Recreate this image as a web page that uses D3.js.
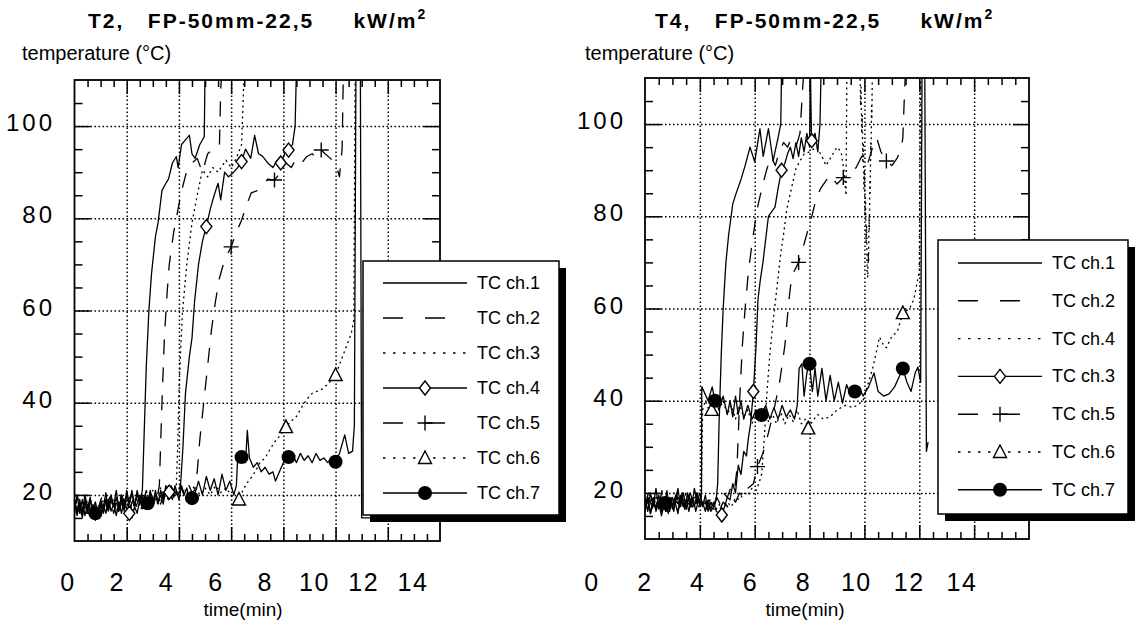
<!DOCTYPE html>
<html>
<head>
<meta charset="utf-8">
<script src="https://cdn.jsdelivr.net/npm/d3@7"></script>
<style>
  body { margin: 0; background: #fff; }
  svg { display: block; font-family: "Liberation Sans", Arial, Helvetica, sans-serif; }
</style>
</head>
<body>
<svg id="chart" width="1136" height="625"></svg>
<script>
// ---- tick labels / legend names ----
const xTickLabels = [0, 2, 4, 6, 8, 10, 12, 14];
const yTickLabels = [20, 40, 60, 80, 100];
const legendNamesT2 = ["TC ch.1", "TC ch.2", "TC ch.3", "TC ch.4", "TC ch.5", "TC ch.6", "TC ch.7"];
const legendNamesT4 = ["TC ch.1", "TC ch.2", "TC ch.4", "TC ch.3", "TC ch.5", "TC ch.6", "TC ch.7"];

// ---- T2 series: [time (min), temperature (°C)] ----
const t2Ch1 = [[0,18],[0.1,15.5],[0.2,19],[0.3,16],[0.4,20],[0.5,17],[0.6,19.5],[0.7,16],[0.8,18.5],[0.9,15.8],[1.0,19],[1.1,17],[1.2,20.5],[1.3,16.5],[1.4,19],[1.5,17.5],[1.6,21],[1.7,17],[1.8,19.5],[1.9,16.5],[2.0,20],[2.1,18],[2.2,21],[2.3,17.5],[2.4,20],[2.5,18.5],[2.6,21],[2.65,30],[2.75,48],[2.85,60],[2.95,68],[3.1,76],[3.2,79],[3.35,86],[3.5,87.6],[3.6,88.5],[3.75,92],[3.9,93.4],[3.97,91],[4.1,96],[4.25,97],[4.4,98],[4.5,94],[4.62,93],[4.8,96],[4.97,97.7],[5.0,112]];
const t2Ch2 = [[0,17],[0.12,19.5],[0.25,16],[0.37,18],[0.5,20],[0.62,16.5],[0.75,18],[0.87,15.5],[1.0,17.5],[1.12,20],[1.25,17],[1.37,19],[1.5,16],[1.62,18.5],[1.75,20.5],[1.87,17],[2.0,19],[2.12,16.5],[2.25,19.5],[2.37,17.5],[2.5,20],[2.62,18],[2.75,21],[2.87,17.5],[3.0,19.5],[3.12,18],[3.25,22],[3.35,40],[3.45,55],[3.55,64],[3.63,70],[3.8,77],[4.0,83],[4.15,87],[4.31,90.5],[4.5,92],[4.7,93],[4.9,90],[5.1,94],[5.3,95],[5.55,95.5],[5.6,108],[5.65,112]];
const t2Ch3 = [[0,16],[0.15,18],[0.3,17],[0.45,19],[0.6,16.5],[0.75,18.5],[0.9,17],[1.05,19.5],[1.2,16],[1.35,18],[1.5,19],[1.65,17],[1.8,20],[1.95,18],[2.1,19.5],[2.25,17.5],[2.4,20.5],[2.55,18],[2.7,20],[2.85,18.5],[3.0,21],[3.15,19],[3.3,21.5],[3.45,19.5],[3.6,22],[3.75,20],[3.9,22],[3.95,30],[4.0,42],[4.07,52],[4.14,60],[4.3,70],[4.5,79],[4.7,85],[4.9,90.5],[5.1,89],[5.3,91],[5.5,90],[5.8,92.6],[6.0,91],[6.2,93],[6.4,96],[6.5,112]];
const t2Ch4 = [[0,19],[0.1,16],[0.2,18],[0.3,15],[0.4,18.5],[0.5,16],[0.6,19],[0.7,16.5],[0.8,14.5],[0.9,17],[1.0,15.5],[1.1,18],[1.2,16],[1.3,19],[1.4,16.5],[1.5,18],[1.6,15.5],[1.7,18.5],[1.8,16],[1.9,19],[2.0,17],[2.1,16],[2.2,15],[2.3,17.5],[2.4,16],[2.5,19],[2.6,17],[2.7,20],[2.8,18],[2.9,21],[3.0,18.5],[3.1,20],[3.2,18],[3.3,21],[3.4,19],[3.5,22],[3.63,20.6],[3.75,19],[3.85,22],[3.95,20],[4.05,21],[4.15,30],[4.25,42],[4.4,50],[4.5,54],[4.6,62],[4.75,70],[4.9,75],[5.05,78.2],[5.2,82],[5.35,85],[5.5,87.6],[5.6,84],[5.75,90],[5.9,89],[6.1,90],[6.25,91],[6.4,92.3],[6.55,95],[6.75,93],[6.9,98],[7.05,94],[7.2,93.5],[7.4,92],[7.6,91],[7.75,92.5],[7.9,92],[8.05,94],[8.2,94.8],[8.35,96],[8.45,100],[8.5,112]];
const t2Ch4Marks = [[2.1,16],[3.63,20.6],[5.05,78.2],[6.4,92.3],[7.9,92],[8.2,94.8]];
const t2Ch5 = [[0,18],[0.15,16.5],[0.3,19],[0.45,17],[0.6,15.5],[0.75,18],[0.9,16],[1.05,18.5],[1.2,17],[1.35,19.5],[1.5,17.5],[1.65,16],[1.8,18],[1.95,20],[2.1,17],[2.25,19],[2.4,17.5],[2.55,20],[2.7,18],[2.85,19.5],[3.0,17.5],[3.15,20],[3.3,18],[3.45,21],[3.6,19],[3.75,21.5],[3.9,19.5],[4.05,22],[4.2,20],[4.35,22.5],[4.5,20.5],[4.6,21],[4.7,25],[4.8,32],[4.95,40],[5.1,48],[5.25,56],[5.4,62],[5.55,67],[5.75,71],[6.0,73.8],[6.2,77],[6.4,79.6],[6.6,83],[6.77,85.5],[7.0,86],[7.2,87],[7.4,88.5],[7.66,88.3],[7.9,90],[8.1,92],[8.3,91],[8.5,93],[8.7,92],[8.9,93.4],[9.1,94],[9.3,93],[9.45,94.8],[9.6,94],[9.8,93],[10.0,92],[10.15,89],[10.25,95],[10.3,112]];
const t2Ch5Marks = [[6.0,73.8],[7.66,88.3],[9.45,94.8]];
const t2Ch6 = [[0,20],[0.15,17],[0.3,18.5],[0.45,16],[0.6,19],[0.75,17],[0.9,18],[1.05,16],[1.2,19.5],[1.35,17.5],[1.5,18.5],[1.65,16.5],[1.8,19],[1.95,17],[2.1,18],[2.25,16.5],[2.4,19],[2.55,17],[2.7,19.5],[2.85,18],[3.0,20],[3.2,18],[3.4,20.5],[3.6,19],[3.8,21],[4.0,19.5],[4.2,21],[4.4,20],[4.6,22],[4.8,20],[5.0,21.5],[5.2,20],[5.4,22],[5.6,20.5],[5.8,21.5],[6.0,20],[6.15,19.5],[6.3,19],[6.45,21],[6.6,22.5],[6.8,24],[6.96,25.4],[7.1,27],[7.3,28],[7.5,30],[7.73,32],[7.9,33],[8.1,34.7],[8.3,36],[8.5,37],[8.7,39],[8.88,40.6],[9.1,42],[9.3,42.5],[9.5,43],[9.7,44],[10.0,46],[10.2,49],[10.4,52],[10.6,55],[10.7,58],[10.75,112]];
const t2Ch6Marks = [[6.3,19],[8.1,34.7],[10.0,46]];
const t2Ch7 = [[0,17],[0.1,20],[0.2,16],[0.3,19],[0.4,15.5],[0.5,18],[0.6,16],[0.7,17.5],[0.8,16],[0.9,15],[1.0,18],[1.1,16],[1.2,19],[1.3,17],[1.4,20],[1.5,17.5],[1.6,19.5],[1.7,16.5],[1.8,20],[1.9,17],[2.0,21],[2.1,18],[2.2,20.5],[2.3,17.5],[2.4,21],[2.5,18],[2.6,20],[2.7,17.5],[2.8,18.2],[2.9,20.5],[3.0,18],[3.1,21],[3.2,18.5],[3.3,20],[3.4,18],[3.5,21.5],[3.6,19],[3.7,22],[3.8,19.5],[3.9,21],[4.0,19],[4.1,22],[4.2,20],[4.3,21.5],[4.4,19],[4.5,19.3],[4.6,20],[4.75,23],[4.9,20],[5.05,24],[5.2,21],[5.35,23.5],[5.5,20],[5.65,24.5],[5.8,21],[5.95,23],[6.1,20],[6.2,22],[6.25,28],[6.4,28.2],[6.55,27],[6.62,34],[6.7,28],[6.85,26],[7.0,27],[7.15,25],[7.3,26],[7.45,24.5],[7.6,25],[7.7,23],[7.85,25],[8.0,27],[8.2,28.2],[8.35,29],[8.5,27],[8.65,29],[8.8,27.5],[8.95,28.5],[9.1,27],[9.25,29],[9.4,27.5],[9.55,28],[9.7,27],[9.85,28],[10.0,27.2],[10.15,29],[10.35,33],[10.5,29],[10.65,29.5],[10.72,35],[10.78,112],[10.95,112],[11.0,15],[11.6,15]];
const t2Ch7Marks = [[0.8,16],[2.8,18.2],[4.5,19.3],[6.4,28.2],[8.2,28.2],[10.0,27.2]];

// ---- T4 series ----
const t4Ch1 = [[0,19],[0.1,16],[0.2,20],[0.3,17],[0.4,21],[0.5,16.5],[0.6,19],[0.7,17],[0.8,20.5],[0.9,16],[1.0,19],[1.1,17.5],[1.2,21],[1.3,17],[1.4,20],[1.5,16.5],[1.6,19.5],[1.7,17],[1.8,21],[1.9,18],[2.0,20],[2.1,17],[2.2,19.5],[2.3,16],[2.4,18],[2.5,17],[2.6,19],[2.65,22],[2.7,35],[2.78,50],[2.85,60],[2.95,70],[3.05,76],[3.2,82.7],[3.34,85.3],[3.5,88],[3.65,91],[3.83,95],[4.0,91.8],[4.19,99],[4.31,93],[4.5,99],[4.67,92],[4.85,97],[4.95,100],[4.98,112]];
const t4Ch2 = [[0,17],[0.12,20],[0.25,16.5],[0.37,19],[0.5,17],[0.62,20.5],[0.75,16],[0.87,18.5],[1.0,17],[1.12,19.5],[1.25,16.5],[1.37,20],[1.5,17.5],[1.62,19],[1.75,16.5],[1.87,20],[2.0,18],[2.12,19.5],[2.25,17],[2.37,18.5],[2.5,16.5],[2.62,19],[2.75,17.5],[2.87,20],[3.0,19],[3.12,21],[3.25,20],[3.35,25],[3.45,40],[3.55,52],[3.65,60],[3.77,68],[3.9,74],[4.05,80],[4.13,82.7],[4.3,87],[4.43,90],[4.6,93],[4.75,91],[4.9,94],[5.05,96],[5.2,95],[5.3,96.5],[5.5,95],[5.65,98],[5.75,108],[5.8,112]];
const t4Ch4 = [[0,18],[0.15,16],[0.3,19],[0.45,17],[0.6,20],[0.75,17.5],[0.9,19],[1.05,16.5],[1.2,19],[1.35,17],[1.5,20],[1.65,17.5],[1.8,19],[1.95,17],[2.1,18.5],[2.25,16.5],[2.4,18],[2.55,16],[2.7,17.5],[2.85,16.5],[3.0,18],[3.15,17],[3.3,19],[3.45,18.5],[3.6,20],[3.75,19.5],[3.9,21],[4.05,20.5],[4.15,22],[4.25,24],[4.35,32],[4.45,42],[4.55,50],[4.65,56],[4.8,64],[4.95,72],[5.05,76],[5.17,81.6],[5.3,85],[5.5,90.3],[5.65,92],[5.8,93.5],[6.0,94],[6.26,95],[6.45,93],[6.6,91],[6.8,93],[7.0,95],[7.15,94],[7.25,90],[7.33,84.5],[7.36,112],[7.84,112],[7.86,104],[7.88,108],[7.9,98],[7.92,102],[7.94,92],[7.96,96],[7.98,86],[8.0,90],[8.02,80],[8.04,84],[8.06,74],[8.08,78],[8.1,68],[8.12,66.7],[8.14,72],[8.15,70],[8.17,80],[8.18,77],[8.2,88],[8.21,85],[8.23,96],[8.24,93],[8.26,104],[8.27,101],[8.29,112]];
const t4Ch3 = [[0,16],[0.1,18.5],[0.2,15.5],[0.3,19],[0.4,16],[0.5,18],[0.6,15],[0.7,17.5],[0.8,16],[0.9,19],[1.0,16.5],[1.1,18],[1.2,15.5],[1.3,19.5],[1.4,17],[1.5,18.5],[1.6,16],[1.7,19],[1.8,17],[1.9,20],[2.0,17],[2.1,18],[2.2,16],[2.3,18.5],[2.4,16.5],[2.5,18],[2.6,16],[2.7,15.5],[2.8,15.2],[2.9,17],[3.0,19],[3.1,18.5],[3.2,22],[3.3,20],[3.4,26],[3.5,24],[3.6,29],[3.7,28],[3.76,31.5],[3.85,35],[3.95,42],[4.05,52],[4.12,62],[4.2,66],[4.3,70],[4.42,76],[4.5,80],[4.62,81],[4.74,82],[4.85,86],[4.98,90],[5.1,91.5],[5.2,93.6],[5.3,95],[5.4,92.5],[5.5,96],[5.6,93],[5.7,97],[5.8,94],[5.9,98],[6.0,95],[6.03,112],[6.07,97],[6.08,96.4],[6.2,98],[6.3,94],[6.38,100],[6.42,112]];
const t4Ch3Marks = [[2.8,15.2],[3.95,42],[4.98,90],[6.08,96.4]];
const t4Ch5 = [[0,17.5],[0.15,19],[0.3,16],[0.45,18],[0.6,16.5],[0.75,19.5],[0.9,17],[1.05,18.5],[1.2,16],[1.35,19],[1.5,17.5],[1.65,20],[1.8,17],[1.95,19],[2.1,16.5],[2.25,18],[2.4,16],[2.55,17.5],[2.7,16],[2.85,18],[3.0,17],[3.15,19],[3.3,18],[3.45,20],[3.6,19],[3.75,21],[3.95,22],[4.1,25.7],[4.3,28.6],[4.5,33],[4.7,38],[4.9,43.7],[5.1,52],[5.25,62],[5.35,67],[5.6,70],[5.8,74],[6.08,80],[6.25,84],[6.4,86],[6.75,89],[7.0,87],[7.23,88.4],[7.45,89],[7.7,90.6],[7.9,93],[8.1,91],[8.3,95],[8.45,97],[8.6,94],[8.8,92],[9.0,91],[9.2,92.7],[9.35,95],[9.4,97],[9.45,105],[9.5,112]];
const t4Ch5Marks = [[4.1,25.7],[5.6,70],[7.23,88.4],[8.8,92]];
const t4Ch6 = [[0,18],[0.15,20],[0.3,17],[0.45,19.5],[0.6,16.5],[0.75,18.5],[0.9,17],[1.05,20],[1.2,17.5],[1.35,19],[1.5,16.5],[1.65,18.5],[1.8,17],[1.95,19],[2.05,18],[2.1,38],[2.2,40],[2.3,38.5],[2.43,38],[2.55,41],[2.7,38],[2.85,40],[3.0,37],[3.15,39],[3.3,36],[3.45,39],[3.6,36.5],[3.75,38],[3.9,35],[4.05,38],[4.2,36],[4.35,38.5],[4.5,35.5],[4.65,37],[4.8,35],[4.95,37.5],[5.1,35],[5.25,37],[5.4,35.5],[5.55,38],[5.7,35],[5.85,36],[5.95,34],[6.1,35.5],[6.3,37],[6.5,36],[6.75,36.5],[7.0,38],[7.3,39],[7.6,38.5],[7.95,40],[8.15,44],[8.3,47],[8.45,51],[8.55,53.8],[8.7,52],[8.8,51.5],[9.0,54],[9.2,55],[9.4,59],[9.65,60],[9.8,62],[9.9,65],[10.0,68],[10.05,112]];
const t4Ch6Marks = [[2.43,38],[5.95,34],[9.4,59]];
const t4Ch7 = [[0,16],[0.1,19],[0.2,15.5],[0.3,18],[0.4,16.5],[0.5,19.5],[0.6,16],[0.73,17.8],[0.85,15.5],[0.95,19],[1.05,16],[1.15,20],[1.25,17],[1.35,19.5],[1.45,16.5],[1.55,20],[1.65,17],[1.75,19],[1.85,16],[1.95,18.5],[2.02,17],[2.06,20],[2.07,43],[2.15,42],[2.3,40],[2.45,43],[2.55,40],[2.7,38],[2.85,41],[3.0,37],[3.1,40],[3.2,36.5],[3.3,41],[3.4,37],[3.5,40],[3.6,36],[3.75,39],[3.9,36],[4.05,38],[4.25,36.9],[4.4,39],[4.55,36],[4.7,38.5],[4.85,36],[5.0,39],[5.15,36.5],[5.3,38],[5.45,36],[5.55,39],[5.62,47],[5.72,48],[5.8,41],[5.9,46],[6.0,48],[6.1,42],[6.2,47],[6.3,41],[6.45,47],[6.6,40],[6.75,45.5],[6.9,40],[7.05,44],[7.2,39.5],[7.35,43.5],[7.5,41],[7.65,42],[7.8,43],[7.95,41],[8.15,43],[8.35,46],[8.5,42],[8.7,41],[8.9,41.5],[9.1,43],[9.25,45],[9.4,47],[9.55,44],[9.7,42],[9.85,46],[9.95,47.3],[10.05,44],[10.1,112],[10.2,112],[10.26,29],[10.32,31]];
const t4Ch7Marks = [[0.73,17.8],[2.55,40],[4.25,36.9],[6.0,48],[7.65,42],[9.4,47]];

// legend row order = drawing style order
const rowStyles = [
  { dash: null,  mark: null },
  { dash: "dash", mark: null },
  { dash: "dot",  mark: null },
  { dash: null,  mark: "diamond" },
  { dash: "dash", mark: "plus" },
  { dash: "dot",  mark: "triangle" },
  { dash: null,  mark: "circle" }
];
const plotDash = { dash: "15,13", dot: "2,3.5" };
const legendDash = { dash: "20,22", dot: "2.5,7.5" };
const markPath = {
  diamond: "M0,-7L5.5,0L0,7L-5.5,0Z",
  triangle: "M0,-7L6.5,5.5L-6.5,5.5Z",
  plus: "M-7.5,0H7.5M0,-7.5V7.5"
};

const panels = [
  {
    id: "t2", title: "T2,   FP-50mm-22,5     kW/m", titleX: 88,
    left: 74.5, right: 440, top: 80, bottom: 541,
    xLabelRange: [68, 413], yLabelRight: 55, tempX: 22, timeX: 243,
    legend: { x: 363, y: 261, w: 196, h: 254, row0: 283, step: 35, l0: 383, l1: 467, tx: 477 },
    names: legendNamesT2,
    series: [
      { pts: t2Ch1 }, { pts: t2Ch2 }, { pts: t2Ch3 },
      { pts: t2Ch4, marks: t2Ch4Marks }, { pts: t2Ch5, marks: t2Ch5Marks },
      { pts: t2Ch6, marks: t2Ch6Marks }, { pts: t2Ch7, marks: t2Ch7Marks }
    ]
  },
  {
    id: "t4", title: "T4,   FP-50mm-22,5     kW/m", titleX: 655,
    left: 645, right: 1029, top: 78, bottom: 539,
    xLabelRange: [592, 962], yLabelRight: 626, tempX: 585, timeX: 805,
    legend: { x: 938, y: 240, w: 190, h: 274, row0: 263, step: 37.8, l0: 958, l1: 1042, tx: 1052 },
    names: legendNamesT4,
    series: [
      { pts: t4Ch1 }, { pts: t4Ch2 }, { pts: t4Ch4 },
      { pts: t4Ch3, marks: t4Ch3Marks }, { pts: t4Ch5, marks: t4Ch5Marks },
      { pts: t4Ch6, marks: t4Ch6Marks }, { pts: t4Ch7, marks: t4Ch7Marks }
    ]
  }
];

const svg = d3.select("#chart");
const defs = svg.append("defs");

function drawMarker(sel, kind) {
  if (kind === "circle") {
    sel.append("circle").attr("r", 7).attr("fill", "#000");
  } else {
    sel.append("path").attr("d", markPath[kind])
      .attr("fill", kind === "plus" ? "none" : "#fff")
      .attr("stroke", "#000").attr("stroke-width", 1.4);
  }
}

function drawPanel(p) {
  const x = d3.scaleLinear().domain([0, 14]).range([p.left, p.right]);
  const y = d3.scaleLinear().domain([10, 110]).range([p.bottom, p.top]);
  const xl = d3.scaleLinear().domain([0, 14]).range(p.xLabelRange);
  const w = p.right - p.left, h = p.bottom - p.top;
  const g = svg.append("g").attr("class", "panel-" + p.id);

  defs.append("clipPath").attr("id", "clip-" + p.id)
    .append("rect").attr("x", p.left).attr("y", p.top).attr("width", w).attr("height", h);

  // dotted grid
  const gx = g.append("g").attr("transform", `translate(0,${p.bottom})`)
    .call(d3.axisBottom(x).tickValues(xTickLabels.filter(v => v > 0 && v < 14)).tickSize(-h).tickFormat(""));
  const gy = g.append("g").attr("transform", `translate(${p.left},0)`)
    .call(d3.axisLeft(y).tickValues(yTickLabels).tickSize(-w).tickFormat(""));
  [gx, gy].forEach(a => {
    a.select(".domain").remove();
    a.selectAll("line").attr("stroke", "#000").attr("stroke-width", 1.5).attr("stroke-dasharray", "1.6,2.4");
  });

  // inside ticks on all four sides
  const minorX = d3.range(0.5, 14, 0.5).filter(v => v % 2 !== 0);
  const majorX = xTickLabels.filter(v => v > 0 && v < 14);
  const minorY = d3.range(15, 110, 5).filter(v => v % 20 !== 0);
  const tickSets = [
    [d3.axisBottom, x, minorX, 7, `translate(0,${p.bottom})`],
    [d3.axisBottom, x, majorX, 14, `translate(0,${p.bottom})`],
    [d3.axisTop, x, minorX, 7, `translate(0,${p.top})`],
    [d3.axisTop, x, majorX, 14, `translate(0,${p.top})`],
    [d3.axisLeft, y, minorY, 8, `translate(${p.left},0)`],
    [d3.axisLeft, y, yTickLabels, 16, `translate(${p.left},0)`],
    [d3.axisRight, y, minorY, 8, `translate(${p.right},0)`],
    [d3.axisRight, y, yTickLabels, 16, `translate(${p.right},0)`]
  ];
  tickSets.forEach(([ax, sc, vals, len, tr]) => {
    const a = g.append("g").attr("transform", tr)
      .call(ax(sc).tickValues(vals).tickSize(-len).tickFormat(""));
    a.select(".domain").remove();
    a.selectAll("line").attr("stroke", "#000").attr("stroke-width", 1.5);
  });

  // series
  const line = d3.line().x(d => x(d[0])).y(d => y(d[1]));
  const plot = g.append("g").attr("clip-path", `url(#clip-${p.id})`);
  p.series.forEach((s, i) => {
    const st = rowStyles[i];
    plot.append("path").datum(s.pts)
      .attr("d", line)
      .attr("fill", "none")
      .attr("stroke", "#000")
      .attr("stroke-width", 1.3)
      .attr("stroke-linejoin", "round")
      .attr("stroke-dasharray", st.dash ? plotDash[st.dash] : null);
  });
  p.series.forEach((s, i) => {
    const st = rowStyles[i];
    if (!st.mark || !s.marks) return;
    plot.selectAll(null).data(s.marks).join("g")
      .attr("transform", d => `translate(${x(d[0])},${y(d[1])})`)
      .each(function () { drawMarker(d3.select(this), st.mark); });
  });

  // frame
  g.append("rect").attr("x", p.left).attr("y", p.top).attr("width", w).attr("height", h)
    .attr("fill", "none").attr("stroke", "#000").attr("stroke-width", 1.8);

  // tick labels
  g.append("g").selectAll("text").data(yTickLabels).join("text")
    .attr("x", p.yLabelRight).attr("y", d => y(d) + 5)
    .attr("text-anchor", "end").attr("font-size", 24).attr("letter-spacing", 3)
    .text(d => d);
  g.append("g").selectAll("text").data(xTickLabels).join("text")
    .attr("x", d => xl(d)).attr("y", 591)
    .attr("text-anchor", "middle").attr("font-size", 25).attr("letter-spacing", 1.5)
    .text(d => d);

  // titles
  const tt = g.append("text").attr("x", p.titleX).attr("y", 28)
    .attr("font-size", 21).attr("font-weight", "bold").attr("letter-spacing", 2)
    .style("white-space", "pre");
  tt.append("tspan").text(p.title);
  tt.append("tspan").attr("dy", -9).attr("font-size", 14).text("2");

  g.append("text").attr("x", p.tempX).attr("y", 60).attr("font-size", 20)
    .text("temperature (°C)");
  g.append("text").attr("x", p.timeX).attr("y", 616).attr("font-size", 19)
    .attr("text-anchor", "middle").text("time(min)");

  // legend with drop shadow
  const L = p.legend;
  const lg = g.append("g");
  lg.append("rect").attr("x", L.x + 7).attr("y", L.y + 7).attr("width", L.w).attr("height", L.h).attr("fill", "#000");
  lg.append("rect").attr("x", L.x).attr("y", L.y).attr("width", L.w).attr("height", L.h)
    .attr("fill", "#fff").attr("stroke", "#000").attr("stroke-width", 1.5);
  p.names.forEach((name, i) => {
    const st = rowStyles[i];
    const ry = L.row0 + i * L.step;
    lg.append("line").attr("x1", L.l0).attr("x2", L.l1).attr("y1", ry).attr("y2", ry)
      .attr("stroke", "#000").attr("stroke-width", 1.4)
      .attr("stroke-dasharray", st.dash ? legendDash[st.dash] : null);
    if (st.mark) {
      const mg = lg.append("g").attr("transform", `translate(${(L.l0 + L.l1) / 2},${ry})`);
      drawMarker(mg, st.mark);
    }
    lg.append("text").attr("x", L.tx).attr("y", ry + 6).attr("font-size", 18).text(name);
  });
}

panels.forEach(drawPanel);
</script>
</body>
</html>
